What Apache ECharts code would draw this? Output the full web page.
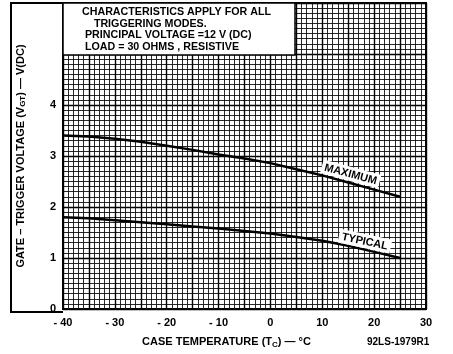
<!DOCTYPE html>
<html>
<head>
<meta charset="utf-8">
<script src="https://cdn.jsdelivr.net/npm/echarts@6/dist/echarts.min.js"></script>
<style>
  html, body { margin: 0; padding: 0; background: #fff; }
  #chart { width: 453px; height: 354px; }
</style>
</head>
<body>
<div id="chart"></div>
<script>
// case temperature, deg C
const temps = [-40, -35, -30, -25, -20, -15, -10, -5, 0, 5, 10, 15, 20, 25];
// gate trigger voltage, V(DC)
const maxVolts = [3.40, 3.38, 3.34, 3.28, 3.20, 3.12, 3.03, 2.95, 2.86, 2.74, 2.62, 2.48, 2.34, 2.20];
const typVolts = [1.80, 1.78, 1.74, 1.70, 1.66, 1.62, 1.58, 1.53, 1.48, 1.41, 1.34, 1.24, 1.12, 1.00];
const xTicks = [-40, -30, -20, -10, 0, 10, 20, 30];
const yTicks = [0, 1, 2, 3, 4];
const noteLines = [
  'CHARACTERISTICS APPLY FOR ALL',
  '    TRIGGERING MODES.',
  ' PRINCIPAL VOLTAGE =12 V (DC)',
  ' LOAD = 30 OHMS , RESISTIVE'
];

const font = 'Liberation Sans';
const chart = echarts.init(document.getElementById('chart'));

function pairs(vals, labelAt, labelText, rot, offset) {
  return temps.map((t, i) => {
    const item = { value: [t, vals[i]] };
    if (t === labelAt) {
      item.label = {
        show: true,
        formatter: labelText,
        position: 'top',
        rotate: rot,
        offset: offset,
        distance: 3,
        color: '#000',
        fontFamily: font,
        fontWeight: 'bold',
        fontSize: 11,
        backgroundColor: '#fff',
        padding: [2, 3, 1, 3]
      };
    }
    return item;
  });
}

const curve = {
  type: 'line', symbol: 'circle', symbolSize: 0, showSymbol: true, z: 5,
  itemStyle: { color: '#000' },
  lineStyle: { color: '#000', width: 2.5 },
  label: { show: false }
};

chart.setOption({
  animation: false,
  backgroundColor: '#fff',
  grid: {
    left: 63, right: 27, top: 3, bottom: 42,
    show: true, borderColor: '#000', borderWidth: 2
  },
  xAxis: {
    type: 'value', min: -40, max: 30, interval: 5,
    name: 'CASE TEMPERATURE (T{sub|C}) — °C',
    nameLocation: 'middle', nameGap: 26,
    nameTextStyle: {
      fontFamily: font, fontWeight: 'bold', fontSize: 11, color: '#000',
      padding: [0, 36, 0, 0],
      rich: { sub: { fontFamily: font, fontWeight: 'bold', fontSize: 8, color: '#000', padding: [6, 0, 0, 0] } }
    },
    axisLine: { show: false },
    axisTick: { show: false },
    axisLabel: {
      margin: 8, color: '#000', fontFamily: font, fontWeight: 'bold', fontSize: 11,
      formatter: v => xTicks.includes(v) ? (v < 0 ? '- ' + (-v) : String(v)) : ''
    },
    splitLine: { show: true, lineStyle: { color: '#000', width: 1.4 } },
    minorTick: { show: false, splitNumber: 5 },
    minorSplitLine: { show: true, lineStyle: { color: '#111', width: 0.9 } }
  },
  yAxis: {
    type: 'value', min: 0, max: 6, interval: 1,
    name: 'GATE – TRIGGER VOLTAGE (V{sub|GT}) — V(DC)',
    nameLocation: 'middle', nameGap: 36,
    nameTextStyle: {
      fontFamily: font, fontWeight: 'bold', fontSize: 11, color: '#000',
      rich: { sub: { fontFamily: font, fontWeight: 'bold', fontSize: 8, color: '#000', padding: [4, 0, 0, 0] } }
    },
    axisLine: { show: false },
    axisTick: { show: false },
    axisLabel: {
      margin: 7, color: '#000', fontFamily: font, fontWeight: 'bold', fontSize: 11,
      formatter: v => yTicks.includes(v) ? String(v) : ''
    },
    splitLine: { show: true, lineStyle: { color: '#000', width: 1.4 } },
    minorTick: { show: false, splitNumber: 10 },
    minorSplitLine: { show: true, lineStyle: { color: '#111', width: 0.9 } }
  },
  series: [
    Object.assign({}, curve, { name: 'MAXIMUM', data: pairs(maxVolts, 15, 'MAXIMUM', -15, [1, 1]) }),
    Object.assign({}, curve, { name: 'TYPICAL', data: pairs(typVolts, 15, 'TYPICAL', -12, [16, 2]) })
  ],
  graphic: [
    // outer frame around the y-axis title
    { type: 'polyline', z: 10, shape: { points: [[63, 312], [11, 312], [11, 3], [426, 3]] },
      style: { stroke: '#000', lineWidth: 2, fill: null } },
    // notes box
    { type: 'rect', z: 10, shape: { x: 63, y: 3, width: 232, height: 52 },
      style: { fill: '#fff', stroke: '#000', lineWidth: 1.5 } },
    ...noteLines.map((t, i) => ({
      type: 'text', z: 11, left: 82, top: 7 + i * 11.5,
      style: { text: t, fill: '#000', font: 'bold 10.7px "Liberation Sans"' }
    })),
    { type: 'text', z: 11, left: 367, top: 337,
      style: { text: '92LS-1979R1', fill: '#000', font: 'bold 10px "Liberation Sans"' } }
  ]
});
</script>
</body>
</html>
